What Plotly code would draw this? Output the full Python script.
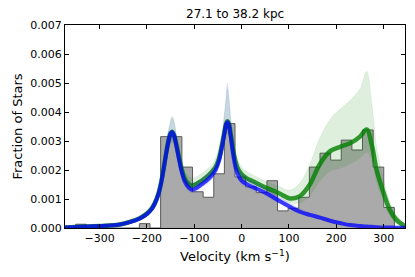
import numpy as np
import plotly.graph_objects as go

# ---------------- data (values in units of 1e-3) ----------------
bin_lo, bin_hi, n_bins = -373.0, 345.0, 32
hist_counts = [0, 0.13, 0, 0.10, 0, 0, 0, 0.15, 0, 3.15, 3.15, 2.10, 1.25, 1.06, 1.87, 3.60,
               1.76, 1.42, 1.22, 1.63, 0.59, 0.68, 1.06, 2.10, 2.58, 2.34, 3.03, 2.69, 3.38, 2.10, 0.71, 0]

vel = [-373, -340, -300, -260, -236, -215, -200, -190, -183, -176, -170, -165, -160, -155, -150,
       -147, -143, -138, -132, -126, -120, -112, -105, -95, -85, -75, -65, -55, -48, -42,
       -37, -33, -30, -27, -23, -18, -13, -8, 0, 10, 25, 46, 65, 81, 102,
       123, 144, 165, 187, 208, 229, 250, 264, 275, 285, 299, 313, 327, 345]

blue_mid = [0.02, 0.04, 0.07, 0.11, 0.20, 0.33, 0.48, 0.65, 0.85, 1.15, 1.55, 2.0, 2.5, 2.95, 3.25,
            3.3, 3.2, 2.85, 2.35, 1.9, 1.6, 1.4, 1.32, 1.38, 1.5, 1.62, 1.78, 2.0, 2.3, 2.75,
            3.2, 3.55, 3.65, 3.55, 3.15, 2.55, 2.1, 1.85, 1.63, 1.52, 1.4, 1.25, 1.08, 0.92, 0.73,
            0.56, 0.45, 0.36, 0.25, 0.17, 0.10, 0.07, 0.05, 0.04, 0.03, 0.02, 0.015, 0.01, 0.005]
blue_hi = [0.04, 0.06, 0.1, 0.15, 0.26, 0.4, 0.58, 0.78, 1.0, 1.32, 1.75, 2.25, 2.8, 3.3, 3.65,
           3.8, 3.65, 3.2, 2.6, 2.1, 1.8, 1.6, 1.55, 1.6, 1.72, 1.85, 2.0, 2.25, 2.6, 3.1,
           3.8, 4.5, 5.0, 4.6, 3.8, 3.0, 2.45, 2.15, 1.9, 1.75, 1.6, 1.42, 1.22, 1.05, 0.85,
           0.66, 0.53, 0.43, 0.3, 0.21, 0.13, 0.09, 0.07, 0.055, 0.04, 0.03, 0.02, 0.015, 0.01]
blue_lo = [0.005, 0.02, 0.04, 0.07, 0.14, 0.26, 0.4, 0.55, 0.72, 1.0, 1.35, 1.75, 2.2, 2.6, 2.9,
           2.95, 2.9, 2.6, 2.15, 1.75, 1.45, 1.27, 1.2, 1.25, 1.37, 1.48, 1.62, 1.82, 2.1, 2.5,
           2.9, 3.15, 3.25, 3.15, 2.85, 2.3, 1.9, 1.68, 1.5, 1.4, 1.3, 1.15, 0.98, 0.83, 0.64,
           0.48, 0.38, 0.3, 0.2, 0.13, 0.07, 0.05, 0.03, 0.025, 0.015, 0.01, 0.007, 0.004, 0.002]

green_mid = [0.02, 0.04, 0.07, 0.11, 0.21, 0.34, 0.50, 0.67, 0.87, 1.17, 1.57, 2.02, 2.52, 2.97, 3.27,
             3.32, 3.22, 2.9, 2.42, 2.0, 1.7, 1.52, 1.46, 1.52, 1.62, 1.74, 1.9, 2.1, 2.38, 2.82,
             3.25, 3.58, 3.68, 3.6, 3.25, 2.7, 2.3, 2.05, 1.85, 1.72, 1.6, 1.43, 1.3, 1.18, 1.02,
             1.1, 1.5, 2.2, 2.65, 2.8, 2.92, 3.15, 3.4, 2.85, 2.0, 1.25, 0.62, 0.28, 0.06]
green_hi = [0.04, 0.06, 0.1, 0.16, 0.27, 0.42, 0.6, 0.8, 1.03, 1.35, 1.78, 2.28, 2.85, 3.35, 3.7,
            3.85, 3.7, 3.25, 2.7, 2.25, 1.95, 1.78, 1.72, 1.77, 1.87, 2.0, 2.15, 2.4, 2.75, 3.2,
            3.85, 4.4, 4.8, 4.4, 3.7, 3.05, 2.6, 2.35, 2.1, 1.95, 1.82, 1.65, 1.52, 1.42, 1.3,
            1.55, 2.2, 3.1, 3.75, 4.1, 4.4, 4.8, 5.4, 4.3, 2.8, 1.7, 0.9, 0.45, 0.12]
green_lo = [0.005, 0.02, 0.04, 0.07, 0.15, 0.27, 0.42, 0.57, 0.75, 1.03, 1.38, 1.78, 2.25, 2.65, 2.95,
            3.0, 2.95, 2.65, 2.2, 1.8, 1.55, 1.38, 1.32, 1.38, 1.48, 1.6, 1.74, 1.93, 2.2, 2.6,
            2.95, 3.2, 3.3, 3.2, 2.9, 2.4, 2.05, 1.85, 1.68, 1.55, 1.45, 1.3, 1.15, 1.02, 0.85,
            0.85, 1.1, 1.6, 1.95, 2.05, 2.2, 2.4, 2.6, 2.3, 1.55, 0.9, 0.4, 0.15, 0.02]

x_ticks = [-300, -200, -100, 0, 100, 200, 300]
x_ticklabels = ["\u2212300", "\u2212200", "\u2212100", "0", "100", "200", "300"]
y_ticks = [0, 0.001, 0.002, 0.003, 0.004, 0.005, 0.006, 0.007]
y_ticklabels = ["0.000", "0.001", "0.002", "0.003", "0.004", "0.005", "0.006", "0.007"]

title_text = "27.1 to 38.2 kpc"
x_title = "Velocity (km s<sup>\u22121</sup>)"
y_title = "Fraction of Stars"

# ---------------- build ----------------
S = 1e-3
edges = np.linspace(bin_lo, bin_hi, n_bins + 1)
step_y = [c * S for c in hist_counts] + [hist_counts[-1] * S]
v = np.array(vel)

fig = go.Figure()
fig.add_trace(go.Scatter(x=edges, y=step_y, mode="lines", line_shape="hv",
                         line=dict(color="rgb(90,90,90)", width=1),
                         fill="tozeroy", fillcolor="rgb(170,170,170)", hoverinfo="skip"))

def bundle(lo, mid, hi, rgb, band_a, line_a, lw):
    fig.add_trace(go.Scatter(x=v, y=np.array(lo) * S, mode="lines", line_shape="spline",
                             line=dict(width=0, color=f"rgba({rgb},0)"), hoverinfo="skip"))
    fig.add_trace(go.Scatter(x=v, y=np.array(hi) * S, mode="lines", line_shape="spline",
                             line=dict(width=0.6, color=f"rgba({rgb},{band_a})"),
                             fill="tonexty", fillcolor=f"rgba({rgb},{band_a})", hoverinfo="skip"))
    fig.add_trace(go.Scatter(x=v, y=np.array(mid) * S, mode="lines", line_shape="spline",
                             line=dict(width=lw, color=f"rgba({rgb},{line_a})"), hoverinfo="skip"))

bundle(green_lo, green_mid, green_hi, "0,128,0", 0.13, 0.8, 4.5)
bundle(blue_lo, blue_mid, blue_hi, "0,0,255", 0.10, 0.75, 4.0)

font_family = "DejaVu Sans"
axis_common = dict(showline=True, linecolor="black", linewidth=1, mirror="ticks",
                   ticks="inside", ticklen=4, tickcolor="black", showgrid=False, zeroline=False,
                   tickfont=dict(family=font_family, size=11, color="black"))

fig.update_layout(
    width=407, height=269,
    margin=dict(l=57, r=10, t=17, b=49),
    paper_bgcolor="white", plot_bgcolor="white",
    showlegend=False,
    xaxis=dict(range=[bin_lo, bin_hi], tickvals=x_ticks, ticktext=x_ticklabels, **axis_common),
    yaxis=dict(range=[0, 0.007], tickvals=y_ticks, ticktext=y_ticklabels, **axis_common),
    annotations=[
        dict(text=title_text, x=0.5, y=1.0, xref="paper", yref="paper", yshift=11,
             xanchor="center", yanchor="middle",
             showarrow=False, font=dict(family=font_family, size=12, color="black")),
        dict(text=x_title, x=0.5, y=-0.138, xref="paper", yref="paper",
             xanchor="center", yanchor="middle",
             showarrow=False, font=dict(family=font_family, size=13, color="black")),
        dict(text=y_title, x=-0.141, y=0.5, xref="paper", yref="paper", textangle=-90,
             xanchor="center", yanchor="middle",
             showarrow=False, font=dict(family=font_family, size=13, color="black")),
    ],
)

fig.write_html("out.html")
